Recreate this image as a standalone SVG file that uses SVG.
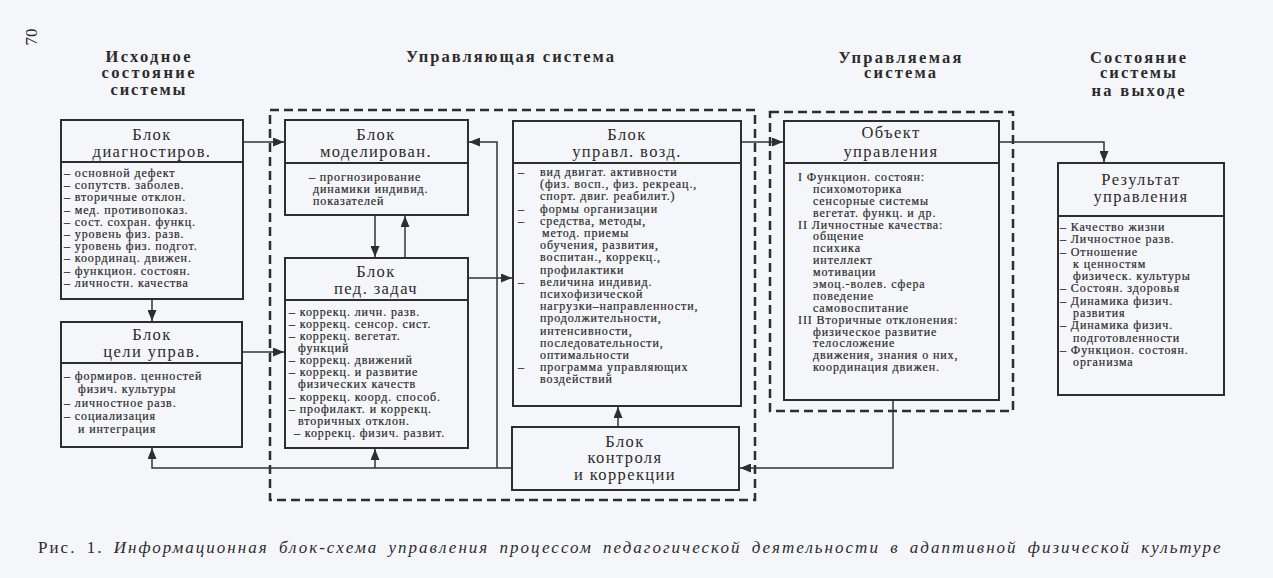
<svg xmlns="http://www.w3.org/2000/svg" width="1273" height="578" viewBox="0 0 1273 578">
<style>
.hdr{font-family:"Liberation Serif",serif;font-weight:bold;font-size:16.5px;fill:#2b2b2b;text-anchor:middle}
.ttl{font-family:"Liberation Serif",serif;font-size:16.5px;letter-spacing:1.4px;fill:#2b2b2b;text-anchor:middle}
.lst{font-family:"Liberation Serif",serif;font-size:12px;letter-spacing:0.9px;fill:#2b2b2b;stroke:#2b2b2b;stroke-width:0.2}
.box{fill:none;stroke:#2e2e2e;stroke-width:2}
.dash{fill:none;stroke:#2e2e2e;stroke-width:2.5;stroke-dasharray:9 5}
.conn{fill:none;stroke:#333;stroke-width:1.5}
.cap{font-family:"Liberation Serif",serif;font-size:17px;fill:#2b2b2b}
</style>
<defs>
<marker id="arr" markerUnits="userSpaceOnUse" markerWidth="11" markerHeight="9" refX="11" refY="4.5" orient="auto">
<path d="M0,0 L11,4.5 L0,9 z" fill="#2e2e2e"/>
</marker>
</defs>
<rect x="0" y="0" width="1273" height="578" fill="#f5f6f9"/>

<text class="cap" font-size="13" transform="translate(37,37) rotate(-90)" text-anchor="middle">70</text>

<g id="headers">
<text class="hdr" x="148" y="62" textLength="85">Исходное</text>
<text class="hdr" x="148" y="78" textLength="93">состояние</text>
<text class="hdr" x="148" y="95" textLength="75">системы</text>
<text class="hdr" x="510" y="62" textLength="208">Управляющая система</text>
<text class="hdr" x="900" y="63" textLength="123">Управляемая</text>
<text class="hdr" x="900" y="78" textLength="72">система</text>
<text class="hdr" x="1138" y="63" textLength="96">Состояние</text>
<text class="hdr" x="1138" y="78" textLength="76">системы</text>
<text class="hdr" x="1138" y="96" textLength="93">на выходе</text>
</g>

<g id="groups">
<rect class="dash" x="270" y="110" width="485" height="390"/>
<rect class="dash" x="770" y="112" width="243" height="299"/>
</g>

<g id="connectors">
<path class="conn" d="M243,142 H284" marker-end="url(#arr)"/>
<path class="conn" d="M152,299 V321" marker-end="url(#arr)"/>
<path class="conn" d="M242,352 H284" marker-end="url(#arr)"/>
<path class="conn" d="M375,215 V257" marker-end="url(#arr)"/>
<path class="conn" d="M405,258 V216" marker-end="url(#arr)"/>
<path class="conn" d="M468,278 H512" marker-end="url(#arr)"/>
<path class="conn" d="M512,468 H152 V448" marker-end="url(#arr)"/>
<path class="conn" d="M375,468 V449" marker-end="url(#arr)"/>
<path class="conn" d="M497,468 V142 H469" marker-end="url(#arr)"/>
<path class="conn" d="M618,427 V407" marker-end="url(#arr)"/>
<path class="conn" d="M741,142 H783" marker-end="url(#arr)"/>
<path class="conn" d="M893,400 V468 H740" marker-end="url(#arr)"/>
<path class="conn" d="M999,142 H1104 V162" marker-end="url(#arr)"/>
</g>

<g id="block-diag">
<rect class="box" x="61" y="120" width="182" height="179"/>
<line class="box" x1="61" y1="162" x2="243" y2="162"/>
<text class="ttl" x="152" y="140">Блок</text>
<text class="ttl" x="152" y="157">диагностиров.</text>
<text class="lst" x="64" y="177">– основной дефект</text>
<text class="lst" x="64" y="189">– сопутств. заболев.</text>
<text class="lst" x="64" y="201">– вторичные отклон.</text>
<text class="lst" x="64" y="214">– мед. противопоказ.</text>
<text class="lst" x="64" y="226">– сост. сохран. функц.</text>
<text class="lst" x="64" y="238">– уровень физ. разв.</text>
<text class="lst" x="64" y="250">– уровень физ. подгот.</text>
<text class="lst" x="64" y="262">– координац. движен.</text>
<text class="lst" x="64" y="275">– функцион. состоян.</text>
<text class="lst" x="64" y="287">– личностн. качества</text>
</g>

<g id="block-goals">
<rect class="box" x="61" y="322" width="181" height="125"/>
<line class="box" x1="61" y1="363" x2="242" y2="363"/>
<text class="ttl" x="152" y="340">Блок</text>
<text class="ttl" x="152" y="357">цели  управ.</text>
<text class="lst" x="64" y="380">– формиров. ценностей</text>
<text class="lst" x="78" y="393">физич. культуры</text>
<text class="lst" x="64" y="407">– личностное разв.</text>
<text class="lst" x="64" y="420">– социализация</text>
<text class="lst" x="78" y="433">и интеграция</text>
</g>

<g id="block-model">
<rect class="box" x="285" y="120" width="183" height="95"/>
<line class="box" x1="285" y1="163" x2="468" y2="163"/>
<text class="ttl" x="376" y="140">Блок</text>
<text class="ttl" x="376" y="157">моделирован.</text>
<text class="lst" x="309" y="181">– прогнозирование</text>
<text class="lst" x="313" y="193">динамики индивид.</text>
<text class="lst" x="313" y="205">показателей</text>
</g>

<g id="block-ped">
<rect class="box" x="285" y="258" width="183" height="190"/>
<line class="box" x1="285" y1="300" x2="468" y2="300"/>
<text class="ttl" x="376" y="277">Блок</text>
<text class="ttl" x="376" y="294">пед. задач</text>
<text class="lst" x="289" y="316">– коррекц. личн. разв.</text>
<text class="lst" x="289" y="328">– коррекц. сенсор. сист.</text>
<text class="lst" x="289" y="340">– коррекц. вегетат.</text>
<text class="lst" x="298" y="352">функций</text>
<text class="lst" x="289" y="364">– коррекц. движений</text>
<text class="lst" x="289" y="376">– коррекц. и развитие</text>
<text class="lst" x="298" y="388">физических качеств</text>
<text class="lst" x="289" y="401">– коррекц. коорд. способ.</text>
<text class="lst" x="289" y="413">– профилакт. и коррекц.</text>
<text class="lst" x="298" y="425">вторичных отклон.</text>
<text class="lst" x="294" y="437">– коррекц. физич. развит.</text>
</g>

<g id="block-upravl">
<rect class="box" x="513" y="121" width="228" height="285"/>
<line class="box" x1="513" y1="163" x2="741" y2="163"/>
<text class="ttl" x="627" y="140">Блок</text>
<text class="ttl" x="627" y="157">управл. возд.</text>
<text class="lst" x="518" y="176">–</text>
<text class="lst" x="540" y="176">вид двигат. активности</text>
<text class="lst" x="540" y="188">(физ. восп., физ. рекреац.,</text>
<text class="lst" x="540" y="200">спорт. двиг. реабилит.)</text>
<text class="lst" x="518" y="213">–</text>
<text class="lst" x="540" y="213">формы организации</text>
<text class="lst" x="518" y="225">–</text>
<text class="lst" x="540" y="225">средства, методы,</text>
<text class="lst" x="542" y="237">метод. приемы</text>
<text class="lst" x="540" y="249">обучения, развития,</text>
<text class="lst" x="540" y="261">воспитан., коррекц.,</text>
<text class="lst" x="540" y="274">профилактики</text>
<text class="lst" x="518" y="286">–</text>
<text class="lst" x="540" y="286">величина индивид.</text>
<text class="lst" x="540" y="298">психофизической</text>
<text class="lst" x="540" y="310">нагрузки–направленности,</text>
<text class="lst" x="540" y="322">продолжительности,</text>
<text class="lst" x="540" y="335">интенсивности,</text>
<text class="lst" x="540" y="347">последовательности,</text>
<text class="lst" x="540" y="359">оптимальности</text>
<text class="lst" x="518" y="371">–</text>
<text class="lst" x="540" y="371">программа управляющих</text>
<text class="lst" x="540" y="383">воздействий</text>
</g>

<g id="block-control">
<rect class="box" x="512" y="427" width="227" height="63" stroke-width="2.5"/>
<text class="ttl" x="625" y="447">Блок</text>
<text class="ttl" x="625" y="463">контроля</text>
<text class="ttl" x="625" y="480">и коррекции</text>
</g>

<g id="block-object">
<rect class="box" x="784" y="121" width="215" height="279"/>
<line class="box" x1="784" y1="163" x2="999" y2="163"/>
<text class="ttl" x="891" y="138">Объект</text>
<text class="ttl" x="891" y="157">управления</text>
<text class="lst" x="798" y="181">I Функцион. состоян:</text>
<text class="lst" x="813" y="193">психомоторика</text>
<text class="lst" x="813" y="205">сенсорные системы</text>
<text class="lst" x="813" y="217">вегетат. функц. и др.</text>
<text class="lst" x="798" y="229">II Личностные качества:</text>
<text class="lst" x="813" y="240">общение</text>
<text class="lst" x="813" y="252">психика</text>
<text class="lst" x="813" y="264">интеллект</text>
<text class="lst" x="813" y="276">мотивации</text>
<text class="lst" x="813" y="288">эмоц.-волев. сфера</text>
<text class="lst" x="813" y="300">поведение</text>
<text class="lst" x="813" y="312">самовоспитание</text>
<text class="lst" x="798" y="324">III Вторичные отклонения:</text>
<text class="lst" x="813" y="336">физическое развитие</text>
<text class="lst" x="813" y="347">телосложение</text>
<text class="lst" x="813" y="359">движения, знания о них,</text>
<text class="lst" x="813" y="371">координация движен.</text>
</g>

<g id="block-result">
<rect class="box" x="1058" y="163" width="166" height="232"/>
<line class="box" x1="1058" y1="216" x2="1224" y2="216"/>
<text class="ttl" x="1141" y="185">Результат</text>
<text class="ttl" x="1141" y="202">управления</text>
<text class="lst" x="1060" y="231">– Качество жизни</text>
<text class="lst" x="1060" y="243">– Личностное разв.</text>
<text class="lst" x="1060" y="256">– Отношение</text>
<text class="lst" x="1073" y="268">к ценностям</text>
<text class="lst" x="1073" y="280">физическ. культуры</text>
<text class="lst" x="1060" y="292">– Состоян. здоровья</text>
<text class="lst" x="1060" y="305">– Динамика физич.</text>
<text class="lst" x="1073" y="317">развития</text>
<text class="lst" x="1060" y="329">– Динамика физич.</text>
<text class="lst" x="1073" y="342">подготовленности</text>
<text class="lst" x="1060" y="354">– Функцион. состоян.</text>
<text class="lst" x="1073" y="366">организма</text>
</g>

<text class="cap" x="38" y="553" letter-spacing="1.5" word-spacing="4" textLength="1184" lengthAdjust="spacing">Рис. 1. <tspan font-style="italic">Информационная блок-схема управления процессом педагогической деятельности в адаптивной физической культуре</tspan></text>
</svg>
